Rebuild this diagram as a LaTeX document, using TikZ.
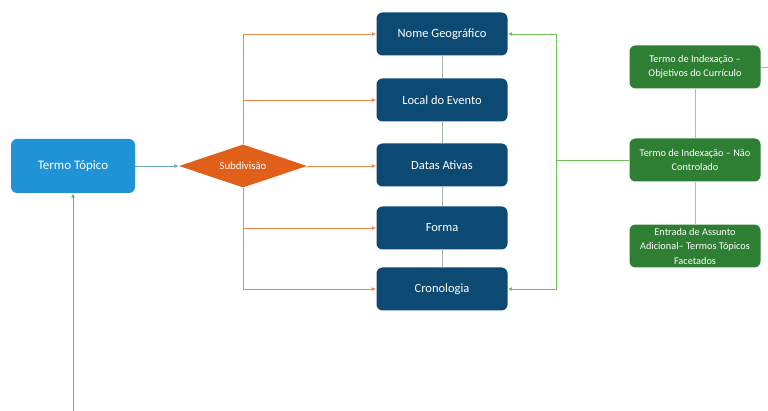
\documentclass[tikz,border=0pt]{standalone}
\usepackage{fontspec}
\setmainfont{Carlito}
\usetikzlibrary{shapes.geometric,arrows.meta}

\definecolor{topicblue}{HTML}{1F93D6}
\definecolor{subdarkblue}{HTML}{0D4A73}
\definecolor{diaorange}{HTML}{E0601A}
\definecolor{boxgreen}{HTML}{2E7E33}
\definecolor{lineorange}{HTML}{E9894C}
\definecolor{linegreen}{HTML}{70BE5C}
\definecolor{linegrey}{HTML}{A3B5A3}
\definecolor{linelightblue}{HTML}{92C5D9}
\definecolor{lineteal}{HTML}{6CA7B7}

\begin{document}
\begin{tikzpicture}[x=1pt, y=-1pt,
				>={Latex[length=4.5pt,width=4pt]},
				topic/.style = {fill=topicblue, text=white, rounded corners=6pt, minimum width=124pt, minimum height=54pt, font=\fontsize{13}{15}\selectfont},
				subfield/.style = {fill=subdarkblue, text=white, rounded corners=6pt, minimum width=131pt, minimum height=43pt, font=\fontsize{12.5}{14}\selectfont},
				indexbox/.style = {fill=boxgreen, text=white, rounded corners=6pt, minimum width=131pt, minimum height=43pt, align=center, font=\fontsize{10.3}{14.5}\selectfont},
				decision/.style = {diamond, aspect=3, fill=diaorange, text=white, inner sep=0pt, minimum width=128pt, minimum height=43pt, font=\fontsize{10.8}{12}\selectfont},
				orangeline/.style = {draw=lineorange, line width=0.8pt},
				greenline/.style = {draw=linegreen, line width=0.8pt}
			]
			\useasboundingbox (0,0) rectangle (768,411);
			% left part
			\node[topic] (topic) at (73,166) {Termo Tópico};
			\node[decision] (subdiv) at (243,166) {Subdivisão};
			% middle column
			\node[subfield] (nome) at (442,34) {Nome Geográfico};
			\node[subfield] (local) at (442,100) {Local do Evento};
			\node[subfield] (datas) at (442,165) {Datas Ativas};
			\node[subfield] (forma) at (442,228) {Forma};
			\node[subfield] (crono) at (442,289) {Cronologia};
			% right column
			\node[indexbox] (curric) at (695,67) {Termo de Indexação –\\Objetivos do Currículo};
			\node[indexbox] (naocontr) at (695,160) {Termo de Indexação – Não\\Controlado};
			\node[indexbox, minimum height=42pt] (adicional) at (695,246) {Entrada de Assunto\\Adicional– Termos Tópicos\\Facetados};
			\coordinate (bottom) at (73,411);
			\coordinate (rightedge) at (768,67);

			\draw[lineteal, line width=0.8pt, ->] (bottom) -- (topic);
			\draw[lineteal, line width=0.8pt, ->] (topic) -- (subdiv);

			\draw[orangeline] (subdiv.north) |- (243,34);
			\draw[orangeline] (subdiv.south) -- (243,289);
			\draw[orangeline, ->] (243,34) -- (nome.west);
			\draw[orangeline, ->] (243,100) -- (local.west);
			\draw[orangeline, ->] (subdiv.east) -- (datas.west |- subdiv.east);
			\draw[orangeline, ->] (243,228) -- (forma.west);
			\draw[orangeline, ->] (243,289) -- (crono.west);

			\draw[linegrey, line width=0.8pt] (nome) -- (local) -- (datas) -- (forma) -- (crono);

			\draw[greenline, ->] (naocontr.west) -| (556,34) -- (nome.east);
			\draw[greenline, ->] (556,160) |- (crono.east);

			\draw[linelightblue, line width=0.8pt] (curric) -- (naocontr) -- (adicional);
			\draw[linegrey, line width=0.8pt] (curric.east) -- (rightedge);
		\end{tikzpicture}
\end{document}
